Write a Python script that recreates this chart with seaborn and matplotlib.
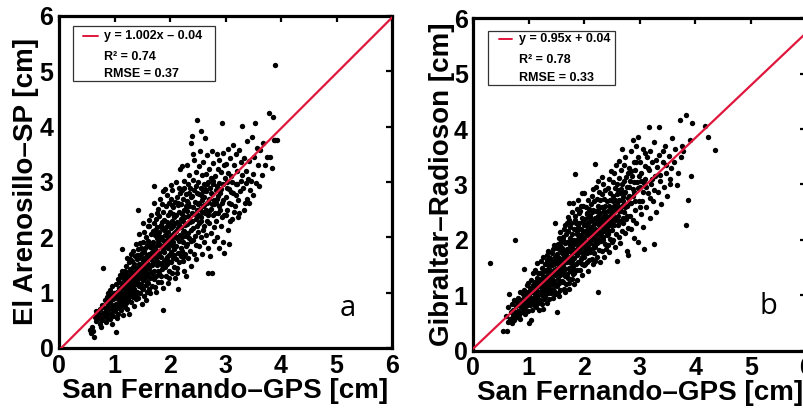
import matplotlib
matplotlib.use("Agg")
import matplotlib.pyplot as plt
import seaborn as sns
import pandas as pd
from matplotlib.patches import Rectangle

# ---------------- data ----------------
a_points = [
    (0.56,0.33),(0.58,0.27),(0.59,0.38),
    (0.61,0.30),(0.63,0.20),(0.64,0.56),(0.66,0.66),(0.67,0.48),(0.69,0.58),
    (0.71,0.52),(0.72,0.62),(0.73,0.44),(0.74,0.70),(0.75,0.55),(0.76,0.38),(0.77,0.78),(0.78,0.50),(0.79,0.64),
    (0.80,1.45),(0.81,0.58),(0.82,0.72),(0.83,0.86),(0.84,0.47),(0.85,0.66),(0.86,0.92),(0.87,0.54),(0.88,0.78),(0.89,0.62),(0.89,1.00),
    (0.90,0.70),(0.91,0.84),(0.91,0.52),(0.92,1.05),(0.93,0.62),(0.94,0.95),(0.95,0.76),(0.95,0.44),(0.96,1.12),(0.97,0.68),(0.98,0.88),(0.98,0.57),(0.99,1.00),(0.99,0.78),
    (1.00,0.92),(1.01,0.66),(1.02,0.29),(1.02,1.15),(1.03,0.80),(1.04,0.55),(1.05,1.02),(1.05,0.72),(1.06,1.25),(1.07,0.88),(1.07,0.62),(1.08,1.08),(1.09,0.95),(1.09,0.76),(1.10,1.32),(1.10,0.84),
    (1.11,1.00),(1.11,0.68),(1.12,1.18),(1.12,0.88),(1.13,1.79),(1.13,1.40),(1.14,0.78),(1.14,1.08),(1.15,0.95),(1.15,1.26),(1.16,0.60),(1.16,1.12),(1.17,0.85),(1.17,1.34),(1.18,1.02),(1.18,0.74),(1.19,1.20),(1.19,0.93),
    (1.20,1.48),(1.20,1.06),(1.21,0.82),(1.21,1.28),(1.22,0.96),(1.22,1.62),(1.23,1.14),(1.23,0.70),(1.24,1.36),(1.24,1.02),(1.25,0.88),(1.25,1.22),(1.26,1.55),(1.26,0.62),(1.27,1.10),(1.27,1.42),(1.28,0.94),(1.28,1.30),(1.29,1.70),(1.29,1.05),
    (1.30,1.18),(1.30,0.84),(1.31,1.38),(1.31,1.00),(1.32,1.58),(1.32,1.24),(1.33,0.92),(1.33,1.46),(1.34,1.12),(1.34,1.76),(1.35,1.32),(1.35,0.76),(1.36,1.52),(1.36,1.06),(1.37,1.26),(1.37,1.66),(1.38,0.98),(1.38,1.40),(1.39,1.16),(1.39,1.88),(1.39,0.88),(1.38,1.34),
    (1.40,1.22),(1.40,1.60),(1.41,1.02),(1.41,1.44),(1.42,1.78),(1.42,1.30),(1.43,2.50),(1.43,0.90),(1.44,1.12),(1.44,1.52),(1.45,1.68),(1.45,1.36),(1.46,1.00),(1.46,1.90),(1.47,1.26),(1.47,1.48),(1.48,1.16),(1.48,1.62),(1.49,0.80),(1.49,1.40),(1.45,2.06),(1.47,1.80),(1.43,1.18),(1.49,1.08),
    (1.50,1.30),(1.50,1.72),(1.51,1.50),(1.51,1.06),(1.52,1.92),(1.52,1.22),(1.53,1.62),(1.53,1.38),(1.54,0.94),(1.54,2.10),(1.55,1.46),(1.55,1.80),(1.56,1.14),(1.56,1.56),(1.57,2.00),(1.57,1.28),(1.58,1.68),(1.58,1.02),(1.59,1.42),(1.59,1.86),(1.52,2.26),(1.56,1.34),(1.58,1.20),(1.54,1.74),(1.51,1.58),(1.57,0.86),
    (1.60,1.52),(1.60,1.18),(1.61,1.94),(1.61,1.34),(1.62,1.70),(1.62,2.20),(1.63,1.44),(1.63,1.06),(1.64,1.82),(1.64,1.26),(1.65,2.06),(1.65,1.60),(1.66,1.38),(1.66,2.40),(1.67,1.74),(1.67,1.12),(1.68,1.90),(1.68,1.50),(1.69,1.30),(1.69,2.12),(1.60,2.20),(1.71,2.92),(1.62,1.62),(1.64,1.00),(1.66,1.88),(1.68,1.66),(1.63,2.32),
    (1.70,1.56),(1.70,1.92),(1.71,1.24),(1.71,2.26),(1.72,1.72),(1.72,1.40),(1.73,2.04),(1.73,1.10),(1.74,1.84),(1.74,1.62),(1.75,2.34),(1.75,1.30),(1.76,1.98),(1.76,1.50),(1.77,1.76),(1.77,2.18),(1.78,1.20),(1.78,2.52),(1.79,1.66),(1.79,1.92),(1.72,2.62),(1.74,1.02),(1.76,2.44),(1.78,1.40),(1.70,1.80),(1.73,2.14),(1.77,1.58),(1.79,2.06),
    (1.80,1.72),(1.80,2.10),(1.81,1.36),(1.81,2.38),(1.82,1.86),(1.82,1.54),(1.83,2.22),(1.83,1.20),(1.84,2.00),(1.84,1.64),(1.85,2.60),(1.85,1.42),(1.86,1.80),(1.86,2.28),(1.87,1.08),(1.87,1.96),(1.88,0.68),(1.88,2.46),(1.89,1.58),(1.89,2.14),(1.82,2.70),(1.84,1.30),(1.86,1.50),(1.88,1.76),(1.81,1.96),(1.85,2.16),(1.87,2.84),(1.89,1.86),
    (1.90,1.74),(1.90,2.32),(1.91,1.46),(1.91,2.04),(1.92,1.90),(1.92,2.56),(1.93,1.30),(1.93,2.18),(1.94,1.64),(1.94,2.76),(1.95,1.96),(1.95,1.52),(1.96,2.40),(1.96,1.80),(1.97,1.18),(1.97,2.10),(1.98,2.62),(1.98,1.68),(1.99,2.24),(1.99,1.40),(1.91,2.88),(1.93,1.82),(1.95,2.28),(1.97,1.58),(1.99,1.96),(1.92,1.60),(1.96,2.00),(1.98,1.26),
    (2.00,1.88),(2.00,2.46),(2.01,1.56),(2.01,2.16),(2.02,2.70),(2.02,1.74),(2.03,2.30),(2.03,1.36),(2.04,2.04),(2.04,2.86),(2.05,1.62),(2.05,2.20),(2.06,1.92),(2.06,2.54),(2.07,1.46),(2.07,2.36),(2.08,2.08),(2.08,1.78),(2.09,2.64),(2.09,1.26),(2.01,1.98),(2.03,2.58),(2.05,2.42),(2.07,1.68),(2.09,2.00),(2.02,2.94),(2.06,1.84),(2.08,2.24),
    (2.10,2.12),(2.10,1.60),(2.11,2.40),(2.11,1.84),(2.12,2.72),(2.12,2.00),(2.13,1.44),(2.13,2.28),(2.14,2.58),(2.14,1.72),(2.15,1.06),(2.15,2.16),(2.16,2.90),(2.16,1.94),(2.17,2.46),(2.17,1.56),(2.18,2.04),(2.18,2.80),(2.19,1.80),(2.19,2.34),(2.11,3.00),(2.13,1.98),(2.15,2.62),(2.17,2.24),(2.19,1.66),(2.12,1.36),(2.18,3.24),
    (2.20,2.18),(2.20,2.60),(2.21,1.76),(2.21,2.42),(2.22,2.00),(2.22,2.86),(2.23,1.58),(2.23,2.30),(2.24,2.70),(2.24,1.92),(2.25,2.50),(2.25,1.40),(2.26,2.12),(2.26,3.02),(2.27,1.70),(2.27,2.36),(2.28,2.78),(2.28,2.02),(2.29,1.84),(2.29,2.56),(2.21,3.28),(2.23,2.10),(2.25,2.90),(2.27,2.22),(2.29,1.30),(2.24,1.64),
    (2.30,2.24),(2.30,2.66),(2.31,1.88),(2.31,2.48),(2.32,2.96),(2.32,2.08),(2.33,1.62),(2.33,2.38),(2.34,2.80),(2.34,1.98),(2.35,3.12),(2.35,2.56),(2.36,1.76),(2.36,2.28),(2.37,2.72),(2.37,3.70),(2.38,2.14),(2.38,1.48),(2.39,2.44),(2.39,3.84),(2.31,3.30),(2.33,2.62),(2.36,2.90),(2.38,1.94),
    (2.40,2.30),(2.40,2.74),(2.41,1.96),(2.41,2.54),(2.42,3.04),(2.42,2.16),(2.43,2.86),(2.43,1.70),(2.44,2.42),(2.44,3.40),(2.45,2.64),(2.45,2.02),(2.46,3.18),(2.46,2.34),(2.47,1.86),(2.47,2.92),(2.48,4.12),(2.48,2.50),(2.49,2.20),(2.49,2.80),(2.42,3.50),(2.46,1.60),
    (2.50,2.60),(2.50,2.10),(2.51,3.00),(2.51,2.40),(2.52,1.84),(2.52,2.78),(2.53,3.28),(2.53,2.26),(2.54,2.52),(2.54,3.56),(2.55,2.00),(2.55,2.90),(2.56,3.93),(2.56,2.36),(2.57,2.68),(2.57,1.70),(2.58,3.12),(2.58,2.46),(2.59,2.14),(2.59,2.84),
    (2.60,2.56),(2.60,3.36),(2.61,2.20),(2.61,2.96),(2.62,2.72),(2.62,1.92),(2.63,3.80),(2.63,2.44),(2.64,3.14),(2.64,2.04),(2.65,2.84),(2.66,2.30),(2.66,3.48),(2.67,2.62),(2.68,1.36),(2.68,3.00),(2.69,2.40),(2.69,1.80),
    (2.70,2.70),(2.70,3.24),(2.71,2.26),(2.72,2.90),(2.72,1.66),(2.73,2.52),(2.74,3.08),(2.74,2.08),(2.75,3.56),(2.76,2.78),(2.76,1.36),(2.77,2.40),(2.78,3.34),(2.78,2.96),(2.79,2.18),(2.79,1.94),
    (2.80,2.60),(2.81,3.10),(2.82,2.30),(2.83,2.86),(2.84,3.50),(2.84,2.00),(2.85,2.70),(2.86,3.24),(2.87,2.44),(2.88,1.80),(2.88,2.98),(2.89,3.40),(2.89,2.56),
    (2.90,2.80),(2.91,2.20),(2.92,3.18),(2.93,4.06),(2.94,2.62),(2.95,3.52),(2.96,1.92),(2.96,2.96),(2.97,1.71),(2.98,2.40),(2.99,3.08),
    (3.00,2.72),(3.01,3.32),(3.02,2.50),(3.03,3.00),(3.04,2.14),(3.05,3.60),(3.06,1.88),(3.07,2.88),(3.08,3.44),(3.09,2.60),
    (3.10,3.10),(3.12,2.34),(3.13,3.66),(3.14,2.80),(3.16,3.30),(3.17,2.56),(3.18,3.50),(3.19,2.96),
    (3.20,3.20),(3.22,2.68),(3.24,3.58),(3.25,2.44),(3.27,3.02),(3.29,4.01),(3.28,3.36),
    (3.31,2.90),(3.33,3.44),(3.35,2.62),(3.37,3.20),(3.39,2.69),(3.38,3.74),
    (3.41,3.06),(3.43,3.38),(3.45,2.86),(3.47,3.82),(3.49,3.14),
    (3.51,3.46),(3.53,4.07),(3.55,2.98),(3.58,3.30),
    (3.62,3.58),(3.65,3.12),(3.68,3.70),
    (3.72,3.30),(3.75,3.46),(3.79,4.24),
    (3.81,3.46),(3.84,3.26),(3.86,4.17),(3.87,3.75),(3.89,3.76),
    (3.90,5.12),(3.93,3.76),
    (2.52,2.62),(2.55,2.30),(2.58,2.74),(2.61,2.58),(2.63,2.88),(2.65,2.50),(2.67,2.96),(2.69,2.64),(2.71,2.48),(2.73,2.80),
    (2.75,2.60),(2.77,3.02),(2.79,2.68),(2.81,2.44),(2.83,2.62),(2.85,2.92),(2.87,2.74),(2.90,2.50),(2.92,2.88),(2.94,2.36),
    (2.96,2.68),(2.98,3.30),(3.00,2.40),(3.02,2.90),(3.04,3.16),(3.06,2.62),(3.08,2.30),(3.10,2.82),(3.12,3.00),(3.15,2.46),
    (3.18,2.76),(3.21,2.96),(3.23,2.36),(3.26,2.84),(3.30,3.12),(3.33,2.50),(3.36,2.98),(3.42,2.62),(3.46,3.02),(3.50,2.76),
    (3.56,3.62),(3.60,2.92),
    (1.04,0.98),(1.08,1.20),(1.12,1.30),(1.18,1.40),(1.22,1.16),(1.27,1.60),(1.33,1.30),(1.36,1.20),(1.41,1.68),(1.46,1.42),
    (1.52,1.46),(1.55,1.62),
]

b_points = [
    (0.30,1.59),
    (0.54,0.35),(0.60,0.35),(0.58,0.62),
    (0.62,0.52),(0.63,0.78),(0.64,1.03),(0.66,0.58),(0.68,0.70),(0.69,0.50),
    (0.70,0.84),(0.71,0.62),(0.72,0.74),(0.73,0.55),(0.74,0.92),(0.76,1.99),(0.75,0.68),(0.77,0.80),(0.78,0.60),(0.79,0.88),
    (0.80,0.72),(0.81,0.96),(0.82,0.64),(0.83,0.84),(0.84,1.06),(0.85,0.58),(0.86,0.78),(0.87,0.92),(0.88,0.70),(0.89,1.02),(0.89,0.84),
    (0.90,0.94),(0.91,0.76),(0.91,1.10),(0.92,1.48),(0.93,0.86),(0.94,0.66),(0.95,1.00),(0.95,0.80),(0.96,1.18),(0.97,0.92),(0.98,0.72),(0.98,1.06),(0.99,0.88),(0.99,1.22),
    (1.00,0.50),(1.01,1.00),(1.02,0.82),(1.02,1.14),(1.03,0.94),(1.04,0.56),(1.04,1.28),(1.05,0.86),(1.06,1.06),(1.06,0.74),(1.07,1.40),(1.08,0.96),(1.08,1.18),(1.09,0.82),(1.10,1.10),(1.10,0.92),
    (1.11,1.24),(1.11,0.88),(1.12,1.02),(1.12,1.46),(1.13,0.78),(1.13,1.16),(1.14,1.32),(1.14,0.96),(1.15,1.58),(1.15,1.08),(1.16,0.86),(1.16,1.26),(1.17,1.00),(1.17,1.40),(1.18,0.74),(1.18,1.16),(1.19,1.30),(1.19,1.06),
    (1.20,1.20),(1.20,0.92),(1.21,1.40),(1.21,1.06),(1.22,1.62),(1.22,1.28),(1.23,0.84),(1.23,1.14),(1.24,1.50),(1.24,1.00),(1.25,1.34),(1.25,0.76),(1.26,1.22),(1.26,1.70),(1.27,1.08),(1.27,1.44),(1.28,0.94),(1.28,1.30),(1.29,1.56),(1.29,1.16),
    (1.30,1.26),(1.30,0.98),(1.31,1.46),(1.31,1.12),(1.32,1.64),(1.32,1.34),(1.33,0.86),(1.33,1.22),(1.34,1.54),(1.34,1.04),(1.35,1.38),(1.35,1.80),(1.36,1.16),(1.36,1.48),(1.37,0.94),(1.37,1.30),(1.38,1.68),(1.38,1.10),(1.39,1.40),(1.39,1.24),(1.33,1.72),(1.37,1.58),
    (1.40,1.32),(1.40,1.04),(1.41,1.54),(1.41,1.20),(1.42,1.76),(1.42,1.40),(1.43,0.96),(1.43,1.28),(1.44,1.62),(1.44,1.12),(1.45,1.46),(1.45,1.90),(1.46,1.24),(1.46,1.56),(1.47,1.02),(1.47,1.36),(1.48,2.31),(1.48,1.70),(1.49,1.18),(1.49,1.48),(1.51,0.70),(1.44,1.84),(1.46,1.08),(1.48,1.60),
    (1.50,1.40),(1.50,1.74),(1.51,1.16),(1.51,1.58),(1.52,1.92),(1.52,1.30),(1.53,1.50),(1.53,1.04),(1.54,1.68),(1.54,2.04),(1.55,1.42),(1.55,1.22),(1.56,1.82),(1.56,1.56),(1.57,1.10),(1.57,1.36),(1.58,1.98),(1.58,1.64),(1.59,1.26),(1.59,1.76),(1.52,1.62),(1.54,0.98),(1.56,2.14),(1.58,1.46),(1.50,1.86),(1.57,1.90),
    (1.60,1.52),(1.60,1.86),(1.61,1.24),(1.61,1.68),(1.62,2.06),(1.62,1.40),(1.63,1.78),(1.63,1.12),(1.64,1.58),(1.64,2.20),(1.65,1.34),(1.65,1.94),(1.66,1.70),(1.66,1.48),(1.67,2.10),(1.67,1.20),(1.68,1.84),(1.68,1.60),(1.69,2.30),(1.69,1.38),(1.61,2.00),(1.63,1.50),(1.65,1.06),(1.67,1.74),(1.69,1.96),(1.62,1.80),(1.66,2.26),
    (1.70,1.64),(1.70,1.96),(1.71,1.32),(1.71,2.16),(1.72,1.80),(1.72,1.50),(1.73,2.36),(1.73,1.22),(1.74,1.70),(1.74,2.04),(1.75,1.44),(1.75,2.24),(1.76,1.88),(1.76,1.58),(1.77,2.50),(1.77,1.30),(1.78,1.76),(1.78,2.10),(1.79,1.48),(1.79,1.98),(1.70,2.42),(1.72,1.12),(1.74,1.90),(1.76,2.30),(1.78,1.62),(1.73,2.66),(1.77,2.00),(1.79,1.38),
    (1.80,1.84),(1.80,1.52),(1.81,2.20),(1.81,1.68),(1.82,2.00),(1.82,1.40),(1.83,2.44),(1.83,1.78),(1.84,3.19),(1.84,1.94),(1.85,1.56),(1.85,2.30),(1.86,1.72),(1.86,2.10),(1.87,1.28),(1.87,2.56),(1.88,1.88),(1.88,1.60),(1.89,2.24),(1.89,2.02),(1.80,2.66),(1.82,1.20),(1.84,2.36),(1.86,1.46),(1.88,2.72),(1.81,1.92),(1.85,1.82),(1.87,2.16),
    (1.90,1.94),(1.90,1.60),(1.91,2.30),(1.91,1.78),(1.92,2.08),(1.92,1.46),(1.93,2.52),(1.93,1.88),(1.94,2.20),(1.94,1.66),(1.95,2.84),(1.95,2.00),(1.96,1.36),(1.96,2.40),(1.97,1.76),(1.97,2.14),(1.98,2.62),(1.98,1.92),(1.99,1.54),(1.99,2.26),(1.90,2.48),(1.92,1.84),(1.94,2.62),(1.96,1.56),(1.98,2.06),(1.91,2.06),(1.95,1.70),(1.97,2.34),
    (2.00,2.02),(2.00,1.70),(2.01,2.38),(2.01,1.86),(2.02,2.16),(2.02,1.56),(2.03,2.60),(2.03,1.96),(2.04,2.28),(2.04,1.76),(2.05,2.48),(2.05,2.08),(2.06,1.44),(2.06,2.72),(2.07,1.90),(2.07,2.22),(2.08,1.64),(2.08,2.42),(2.09,2.00),(2.09,2.56),(2.00,2.84),(2.02,1.80),(2.04,2.46),(2.06,2.12),(2.08,1.84),(2.01,2.26),(2.05,1.60),(2.09,2.32),
    (2.10,2.10),(2.10,1.78),(2.11,2.44),(2.11,1.94),(2.12,2.64),(2.12,2.24),(2.13,1.66),(2.13,2.04),(2.14,2.36),(2.14,2.80),(2.15,1.86),(2.15,2.16),(2.16,2.54),(2.16,1.56),(2.17,2.28),(2.17,2.00),(2.18,2.70),(2.18,1.76),(2.19,2.40),(2.19,2.12),(2.20,3.37),(2.11,2.20),(2.13,2.50),(2.15,2.92),(2.17,1.90),(2.19,1.62),(2.14,2.06),
    (2.20,2.20),(2.20,1.88),(2.21,2.52),(2.21,2.04),(2.22,2.74),(2.22,1.70),(2.23,2.34),(2.23,2.12),(2.24,2.62),(2.24,1.96),(2.25,1.06),(2.25,2.44),(2.26,2.26),(2.26,2.86),(2.27,1.82),(2.27,2.58),(2.28,2.08),(2.28,2.36),(2.29,2.72),(2.29,1.60),(2.21,2.96),(2.23,1.94),(2.25,2.18),(2.27,2.00),(2.29,2.48),(2.24,3.06),
    (2.30,2.30),(2.30,1.98),(2.31,2.60),(2.31,2.14),(2.32,2.82),(2.32,1.80),(2.33,2.42),(2.33,2.22),(2.34,3.00),(2.34,2.06),(2.35,2.52),(2.35,1.70),(2.36,2.34),(2.36,2.74),(2.37,1.92),(2.37,2.62),(2.38,2.16),(2.38,2.90),(2.39,2.44),(2.39,1.84),(2.31,3.14),(2.33,2.00),(2.36,2.50),(2.38,2.28),
    (2.40,2.40),(2.40,2.08),(2.41,2.70),(2.41,2.24),(2.42,2.94),(2.42,1.90),(2.43,2.52),(2.43,2.32),(2.44,3.10),(2.44,2.16),(2.45,2.62),(2.45,1.78),(2.46,2.44),(2.46,2.84),(2.47,2.02),(2.47,2.72),(2.48,2.26),(2.48,3.24),(2.49,2.56),(2.49,1.96),(2.42,2.10),(2.46,2.36),
    (2.50,2.50),(2.50,2.18),(2.51,2.80),(2.51,2.34),(2.52,3.04),(2.52,2.00),(2.53,2.62),(2.53,2.42),(2.54,3.20),(2.54,2.26),(2.55,2.72),(2.55,1.88),(2.56,2.54),(2.56,2.94),(2.57,2.10),(2.57,3.36),(2.58,2.36),(2.58,2.82),(2.59,2.64),(2.59,1.62),
    (2.60,2.60),(2.60,2.26),(2.61,2.90),(2.61,2.44),(2.62,3.12),(2.62,2.06),(2.63,2.72),(2.63,3.42),(2.64,2.34),(2.65,2.84),(2.65,1.94),(2.66,3.26),(2.66,2.52),(2.67,2.16),(2.68,3.00),(2.68,3.64),(2.69,2.40),(2.69,2.78),
    (2.70,2.70),(2.70,2.30),(2.71,3.06),(2.72,2.50),(2.72,3.36),(2.73,2.12),(2.74,2.86),(2.74,3.50),(2.75,2.38),(2.76,2.96),(2.76,1.80),(2.77,2.62),(2.78,3.20),(2.78,2.22),(2.79,1.73),(2.79,2.76),
    (2.80,2.80),(2.81,3.30),(2.82,2.44),(2.83,3.06),(2.84,2.20),(2.84,3.60),(2.85,2.66),(2.86,3.16),(2.87,2.36),(2.88,2.92),(2.88,3.80),(2.89,2.04),(2.89,3.40),
    (2.90,2.86),(2.91,3.26),(2.92,2.54),(2.93,3.70),(2.94,2.30),(2.95,3.04),(2.96,3.50),(2.97,1.97),(2.97,3.86),(2.98,2.70),(2.99,3.16),
    (3.00,2.96),(3.01,3.40),(3.02,2.46),(3.03,3.20),(3.04,2.70),(3.05,3.64),(3.06,2.24),(3.07,3.02),(3.08,1.83),(3.09,3.34),
    (3.10,3.10),(3.12,2.60),(3.13,3.50),(3.14,2.84),(3.16,4.03),(3.17,3.26),(3.18,2.40),(3.19,3.60),
    (3.20,3.00),(3.22,3.40),(3.24,2.70),(3.25,1.92),(3.26,3.76),(3.28,3.16),(3.29,2.50),
    (3.31,3.32),(3.33,2.86),(3.34,4.04),(3.35,3.54),(3.37,3.06),(3.39,2.64),
    (3.41,3.40),(3.43,2.96),(3.45,3.70),(3.47,3.20),(3.49,2.80),
    (3.52,3.52),(3.54,3.00),(3.56,3.30),(3.58,3.84),
    (3.62,3.40),(3.64,3.64),(3.67,2.99),(3.69,3.20),
    (3.72,4.16),(3.74,3.50),(3.76,3.70),(3.78,3.60),
    (3.84,4.25),(3.84,2.27),(3.87,2.72),(3.92,3.16),(3.94,4.11),(3.90,3.80),(4.17,4.06),(4.22,3.86),(4.36,3.62),
    (2.52,2.70),(2.55,2.40),(2.58,3.00),(2.61,2.70),(2.63,2.52),(2.66,2.92),(2.68,2.62),(2.71,2.84),(2.73,2.60),(2.75,3.14),
    (2.77,2.44),(2.80,2.96),(2.82,2.66),(2.85,3.24),(2.87,2.80),(2.90,3.04),(2.92,2.70),(2.94,3.40),(2.97,2.94),(3.00,2.60),
    (3.03,3.06),(3.06,2.86),(3.09,3.56),(3.12,2.96),(3.15,3.30),(3.18,2.76),(3.22,3.10),(3.26,2.90),(3.30,3.44),(3.36,3.18),
    (3.42,3.60),(3.48,3.36),(3.55,3.10),
]

fit_a = (1.002, -0.04)
fit_b = (0.95, 0.04)
stats_a = ["y = 1.002x \u2013 0.04", "R\u00b2 = 0.74", "RMSE = 0.37"]
stats_b = ["y = 0.95x + 0.04", "R\u00b2 = 0.78", "RMSE = 0.33"]
x_label = "San Fernando\u2013GPS [cm]"
y_label_a = "El Arenosillo\u2013SP [cm]"
y_label_b = "Gibraltar\u2013Radioson [cm]"
panel_letters = ["a", "b"]
ticks = [0, 1, 2, 3, 4, 5, 6]

# ---------------- style ----------------
sns.set_theme(style="white")
plt.rcParams["font.family"] = ["Liberation Sans", "DejaVu Sans"]
plt.rcParams["axes.linewidth"] = 2.3
for key in ["text.color", "axes.labelcolor", "xtick.color", "ytick.color",
            "axes.edgecolor"]:
    plt.rcParams[key] = "black"

RED = "#E0173C"

fig = plt.figure(figsize=(8.04, 4.11), dpi=100)
ax_a = fig.add_axes([0.0734, 0.1533, 0.4142, 0.8078])
ax_b = fig.add_axes([0.5887, 0.1467, 0.4142, 0.8088])


def draw(ax, pts, fit, stats, ylab, letter, letter_xy, box, ylabelpad):
    df = pd.DataFrame(pts, columns=["gps", "other"])
    sns.scatterplot(data=df, x="gps", y="other", ax=ax, color="black",
                    s=15, linewidth=0, legend=False, zorder=2)
    lx = [ticks[0], ticks[-1]]
    line_df = pd.DataFrame({"x": lx, "y": [fit[0] * v + fit[1] for v in lx]})
    sns.lineplot(data=line_df, x="x", y="y", ax=ax, color=RED, linewidth=1.6,
                 zorder=3, legend=False)
    ax.set_xlim(ticks[0], ticks[-1])
    ax.set_ylim(ticks[0], ticks[-1])
    ax.set_xticks(ticks)
    ax.set_yticks(ticks)
    ax.tick_params(direction="in", length=4, width=1.6, top=True, right=True,
                   labelsize=18, pad=4, colors="black", labelcolor="black")
    for lab in ax.get_xticklabels() + ax.get_yticklabels():
        lab.set_fontweight("bold")
    ax.set_xlabel(x_label, fontsize=20, fontweight="bold", labelpad=0,
                  color="black")
    ax.set_ylabel(ylab, fontsize=20, fontweight="bold", labelpad=ylabelpad,
                  color="black")
    for sp in ax.spines.values():
        sp.set_color("black")
        sp.set_linewidth(2.3)
    # stats box
    x0, x1, y0, y1, lx0, lx1, tx, rows = box
    ax.add_patch(Rectangle((x0, y0), x1 - x0, y1 - y0, transform=ax.transAxes,
                           facecolor="white", edgecolor="#333333", linewidth=0.9,
                           zorder=4))
    ax.plot([lx0, lx1], [rows[0], rows[0]], transform=ax.transAxes, color=RED,
            linewidth=1.4, zorder=5)
    for t, ry in zip(stats, rows):
        ax.text(tx, ry, t, transform=ax.transAxes, fontsize=9, fontweight="bold",
                va="center", ha="left", zorder=5, color="black")
    ax.text(letter_xy[0], letter_xy[1], letter, fontsize=21, color="black",
            family=["Open Sans", "DejaVu Sans"], ha="center", va="center", zorder=5)


draw(ax_a, a_points, fit_a, stats_a, y_label_a, panel_letters[0], (5.21, 0.72),
     (0.042, 0.468, 0.805, 0.971, 0.072, 0.117, 0.135, (0.940, 0.877, 0.825)), 0)
draw(ax_b, b_points, fit_b, stats_b, y_label_b, panel_letters[1], (5.31, 0.80),
     (0.044, 0.426, 0.799, 0.963, 0.078, 0.115, 0.137, (0.937, 0.875, 0.821)), -1)

fig.savefig("out.png", dpi=100)
